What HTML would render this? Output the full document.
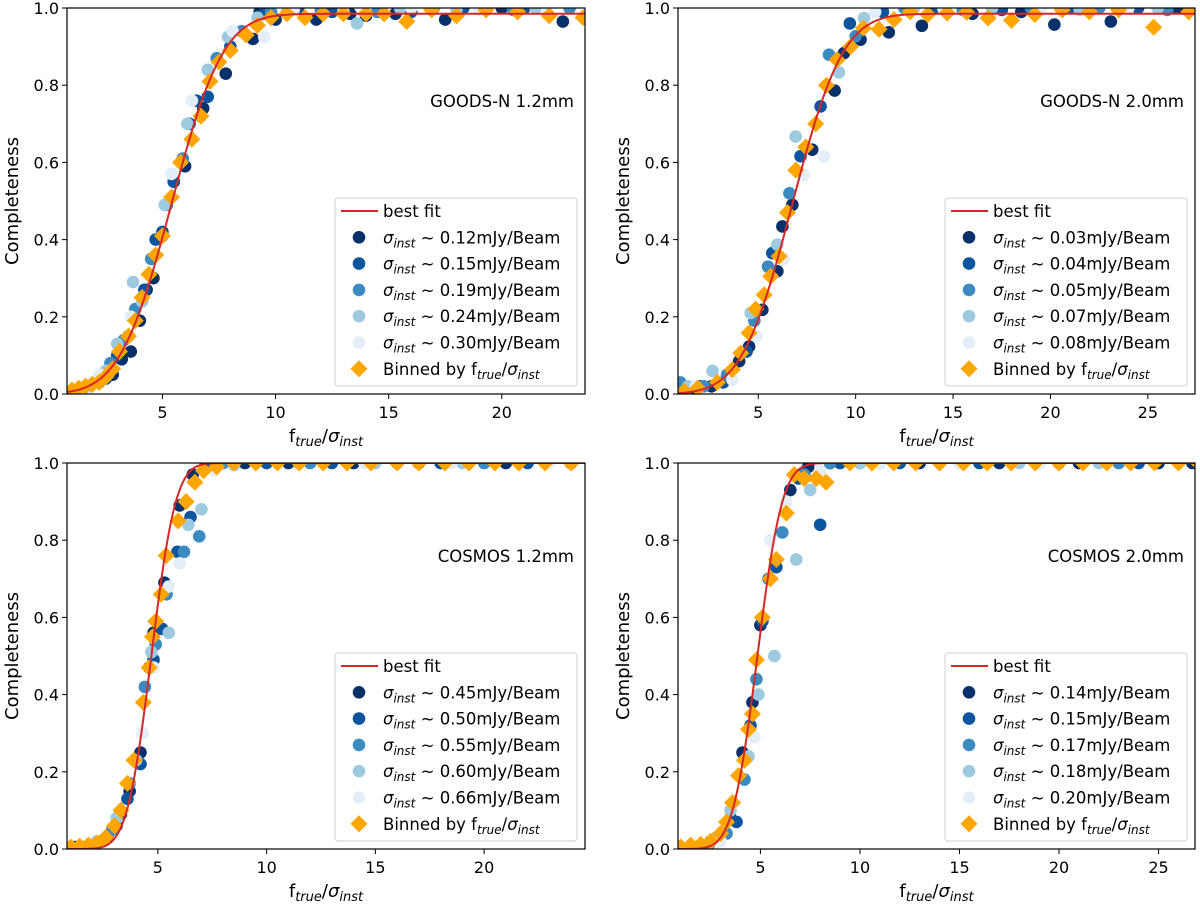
<!DOCTYPE html>
<html><head><meta charset="utf-8">
<style>
html,body{margin:0;padding:0;background:#fff;}
svg{display:block;font-family:"DejaVu Sans","Liberation Sans",sans-serif;}
</style></head>
<body>
<svg id="fig" width="1200" height="904" viewBox="0 0 1200 904" xmlns="http://www.w3.org/2000/svg"></svg>
<script>
// ---- Panel 1: GOODS-N 1.2mm ----
const p1Labels = ["0.12","0.15","0.19","0.24","0.30"];
const p1A = [[2.2,0.03],[2.8,0.05],[3.2,0.09],[3.6,0.11],[4.0,0.19],[4.3,0.27],[4.6,0.30],[5.0,0.41],[5.5,0.55],[6.0,0.59],[6.8,0.74],[7.8,0.83],[9.0,0.92],[9.3,0.99],[10,0.97],[11.8,0.97],[13.3,0.985],[14,0.98],[15.3,0.985],[17.5,0.97],[20,1.0],[22.7,0.965]];
const p1B = [[2.5,0.04],[3.0,0.10],[3.5,0.15],[4.2,0.27],[4.7,0.40],[5.0,0.42],[5.5,0.55],[6.2,0.70],[6.5,0.76],[7.0,0.77],[8.0,0.90],[9.5,0.985],[11,1.0],[12.5,0.99],[16,0.99],[18.3,1.0],[21,1.0]];
const p1C = [[2.0,0.03],[2.7,0.08],[3.3,0.14],[3.8,0.22],[4.5,0.35],[5.2,0.49],[5.9,0.61],[6.7,0.72],[7.4,0.87],[8.5,0.94],[9.8,0.99],[12,0.995],[14.5,0.99],[17,1.0],[20.5,0.995],[23,1.0]];
const p1D = [[1.8,0.02],[2.5,0.06],[3.0,0.13],[3.7,0.29],[4.1,0.24],[5.1,0.49],[6.1,0.70],[7.0,0.84],[7.9,0.925],[9.2,0.975],[10.5,0.99],[13.6,0.96],[15.5,1.0],[18,0.995],[21.5,1.0]];
const p1E = [[1.5,0.01],[2.2,0.05],[3.6,0.20],[5.4,0.57],[6.3,0.76],[8.1,0.94],[9.5,0.925],[10.8,0.995],[13,0.99],[16,1.0],[19,0.995],[22,1.0]];
const p1Bin = [[1.0,0.01],[1.3,0.015],[1.6,0.02],[1.9,0.025],[2.2,0.03],[2.5,0.045],[2.8,0.065],[3.1,0.11],[3.5,0.15],[3.8,0.19],[4.1,0.25],[4.4,0.31],[4.7,0.36],[5.0,0.41],[5.4,0.51],[5.8,0.60],[6.3,0.66],[6.7,0.72],[7.1,0.81],[7.5,0.86],[8.0,0.89],[8.7,0.93],[9.2,0.955],[9.8,0.975],[10.5,0.985],[11.3,0.975],[12.1,0.985],[13,0.985],[14,0.985],[14.8,0.985],[15.8,0.965],[16.9,0.995],[18,0.98],[19.3,0.995],[20.7,0.99],[22.1,0.98],[23.6,0.975]];
const p1Fit = [0.985, 5.4, 1.8];
const p1Ticks = [5,10,15,20];

// ---- Panel 2: GOODS-N 2.0mm ----
const p2Labels = ["0.03","0.04","0.05","0.07","0.08"];
const p2A = [[1.6,0.01],[2.6,0.02],[4.02,0.085],[4.53,0.123],[5.21,0.218],[5.98,0.318],[6.24,0.434],[6.75,0.49],[7.77,0.633],[8.92,0.786],[9.4,0.883],[10.25,0.918],[11.7,0.937],[13.4,0.954],[16.0,0.985],[18.5,0.99],[20.2,0.957],[23.1,0.965],[26.5,1.0]];
const p2B = [[2.0,0.02],[3.2,0.03],[4.4,0.11],[5.72,0.365],[7.17,0.616],[8.2,0.745],[9.7,0.96],[11.4,0.99],[14,1.0],[17.5,0.995],[21,1.0],[24.5,1.0]];
const p2C = [[1.0,0.03],[2.2,0.02],[3.4,0.05],[4.8,0.19],[5.5,0.33],[6.6,0.52],[8.63,0.879],[10.0,0.927],[12.5,1.0],[15.5,0.995],[19,1.0],[22.5,1.0],[26,0.995]];
const p2D = [[1.4,0.02],[2.65,0.06],[4.61,0.21],[5.98,0.387],[6.92,0.667],[9.14,0.833],[10.43,0.974],[13,1.0],[17,1.0],[21.5,0.995],[25.5,1.0]];
const p2E = [[1.8,0.02],[3.67,0.037],[4.9,0.15],[6.3,0.35],[7.35,0.568],[8.37,0.616],[11,0.99],[14.5,1.0],[19.5,0.995],[24,1.0]];
const p2Bin = [[1.2,0.007],[1.9,0.015],[2.9,0.03],[3.67,0.063],[4.1,0.106],[4.53,0.158],[4.87,0.22],[5.3,0.257],[5.64,0.305],[6.07,0.357],[6.5,0.47],[6.93,0.58],[7.44,0.64],[7.95,0.70],[8.5,0.80],[9.05,0.866],[9.74,0.90],[10.4,0.948],[11.2,0.945],[11.97,0.97],[12.8,0.99],[13.7,0.983],[14.7,0.987],[15.7,0.989],[16.8,0.974],[18.0,0.968],[19.2,0.983],[20.6,0.995],[22.0,0.99],[23.5,0.995],[25.3,0.95],[27.1,0.99]];
const p2Fit = [0.985, 6.75, 2.05];
const p2Ticks = [5,10,15,20,25];

// ---- Panel 3: COSMOS 1.2mm ----
const p3Labels = ["0.45","0.50","0.55","0.60","0.66"];
const p3A = [[1.2,0.005],[2,0.01],[2.7,0.03],[3.3,0.09],[3.7,0.15],[4.2,0.25],[4.6,0.47],[4.8,0.56],[5.3,0.69],[6.0,0.89],[6.6,0.97],[7.2,0.995],[9,1.0],[11,1.0],[14,1.0],[17,1.0],[21,1.0],[24,1.0]];
const p3B = [[1.5,0.005],[2.4,0.02],[3.1,0.06],[3.6,0.13],[4.2,0.22],[4.8,0.49],[5.2,0.57],[5.9,0.77],[6.5,0.86],[7.3,0.99],[10,1.0],[13,1.0],[18,1.0],[22,1.0]];
const p3C = [[2.0,0.01],[2.9,0.05],[3.7,0.17],[4.4,0.42],[4.9,0.53],[5.4,0.66],[6.2,0.77],[6.9,0.81],[8,1.0],[12,1.0],[16,1.0],[20,1.0]];
const p3D = [[2.2,0.02],[3.1,0.08],[4.0,0.23],[4.7,0.51],[5.5,0.56],[6.4,0.84],[7.0,0.88],[8.5,0.995],[11.5,1.0],[15,1.0],[19,1.0]];
const p3E = [[2.5,0.02],[3.3,0.10],[4.3,0.30],[4.8,0.47],[5.5,0.68],[6.0,0.74],[7.6,0.98],[10.5,1.0],[14.5,1.0],[18.5,1.0],[23,1.0]];
const p3Bin = [[1.0,0.005],[1.4,0.007],[1.8,0.01],[2.2,0.015],[2.6,0.03],[3.0,0.06],[3.3,0.1],[3.6,0.17],[3.9,0.23],[4.33,0.38],[4.6,0.47],[4.75,0.55],[4.9,0.59],[5.15,0.66],[5.38,0.76],[5.93,0.85],[6.3,0.90],[6.7,0.95],[7.1,0.98],[7.7,0.99],[8.5,1.0],[9.5,1.0],[10.5,1.0],[11.5,1.0],[12.6,1.0],[13.7,1.0],[14.8,1.0],[16,1.0],[17,1.0],[18.2,1.0],[19.3,1.0],[20.5,1.0],[21.6,1.0],[22.8,1.0],[24,1.0]];
const p3Fit = [1.0, 4.7, 0.88];
const p3Ticks = [5,10,15,20];

// ---- Panel 4: COSMOS 2.0mm ----
const p4Labels = ["0.14","0.15","0.17","0.18","0.20"];
const p4A = [[1.5,0.005],[2.5,0.02],[3.5,0.08],[4.1,0.25],[4.6,0.38],[5.0,0.58],[6.5,0.93],[7.0,0.97],[7.4,0.99],[8.5,1.0],[10,1.0],[13,1.0],[17,1.0],[21,1.0],[25,1.0],[26.7,1.0]];
const p4B = [[2,0.01],[3.0,0.03],[3.8,0.07],[4.5,0.32],[5.1,0.59],[5.8,0.73],[6.9,0.96],[8.0,0.84],[9,1.0],[12,1.0],[16,1.0],[20,1.0],[24,1.0]];
const p4C = [[2.4,0.01],[3.3,0.04],[4.2,0.18],[4.8,0.44],[5.4,0.70],[6.1,0.82],[7.2,0.97],[8.5,1.0],[11,1.0],[15,1.0],[19,1.0],[23,1.0]];
const p4D = [[2.8,0.03],[3.5,0.10],[4.4,0.24],[4.9,0.40],[5.7,0.50],[6.8,0.75],[7.5,0.93],[10,1.0],[14,1.0],[18,1.0],[22,1.0]];
const p4E = [[3.0,0.02],[3.7,0.12],[4.7,0.29],[5.5,0.80],[6.3,0.90],[8.0,0.98],[11,1.0],[15,1.0],[19,1.0],[26,1.0]];
const p4Bin = [[1.0,0.005],[1.5,0.01],[2.0,0.012],[2.5,0.02],[3.0,0.04],[3.3,0.07],[3.6,0.12],[3.9,0.19],[4.2,0.23],[4.4,0.31],[4.6,0.35],[4.8,0.49],[5.1,0.60],[5.5,0.70],[5.8,0.75],[6.3,0.87],[6.7,0.97],[7.2,0.96],[7.8,0.96],[8.3,0.95],[9.5,1.0],[10.6,1.0],[11.7,1.0],[12.8,1.0],[14,1.0],[15.2,1.0],[16.4,1.0],[17.6,1.0],[18.8,1.0],[20,1.0],[21.2,1.0],[22.4,1.0],[23.6,1.0],[24.8,1.0],[26,1.0],[27,1.0]];
const p4Fit = [1.0, 4.85, 0.98];
const p4Ticks = [5,10,15,20,25];

const yTicks = [0.0,0.2,0.4,0.6,0.8,1.0];
const colors = ["#08306b","#0b559f","#3b8bc2","#9ecae1","#e3eef9"];
const NS = "http://www.w3.org/2000/svg";
const svg = document.getElementById("fig");

function mk(tag, attrs, parent){
  const e = document.createElementNS(NS, tag);
  for (const k in attrs) e.setAttribute(k, attrs[k]);
  (parent||svg).appendChild(e);
  return e;
}
function erf(x){
  const s = x<0?-1:1; x=Math.abs(x);
  const t=1/(1+0.3275911*x);
  const y=1-(((((1.061405429*t-1.453152027)*t)+1.421413741)*t-0.284496736)*t+0.254829592)*t*Math.exp(-x*x);
  return s*y;
}
function sigmaText(parent, x, y, rest, name){
  const t = mk("text",{x:x,y:y,"font-size":"16.5"},parent);
  
  
  const a = mk("tspan",{"font-style":"italic"},t); a.textContent="σ";
  const b = mk("tspan",{"font-style":"italic","font-size":"12",dy:"4"},t); b.textContent="inst";
  const c = mk("tspan",{dy:"-4"},t); c.textContent=rest;
  return t;
}

const panels = [
  {L:67,R:585,T:8,B:394,xmin:0.78,xmax:23.68,ticks:p1Ticks,series:[p1A,p1B,p1C,p1D,p1E],bin:p1Bin,fit:p1Fit,labels:p1Labels,title:"GOODS-N 1.2mm",id:"goodsn-12mm"},
  {L:678,R:1195,T:8,B:394,xmin:0.88,xmax:27.42,ticks:p2Ticks,series:[p2A,p2B,p2C,p2D,p2E],bin:p2Bin,fit:p2Fit,labels:p2Labels,title:"GOODS-N 2.0mm",id:"goodsn-20mm"},
  {L:67,R:585,T:463,B:849,xmin:0.82,xmax:24.64,ticks:p3Ticks,series:[p3A,p3B,p3C,p3D,p3E],bin:p3Bin,fit:p3Fit,labels:p3Labels,title:"COSMOS 1.2mm",id:"cosmos-12mm"},
  {L:678,R:1195,T:463,B:849,xmin:0.86,xmax:26.83,ticks:p4Ticks,series:[p4A,p4B,p4C,p4D,p4E],bin:p4Bin,fit:p4Fit,labels:p4Labels,title:"COSMOS 2.0mm",id:"cosmos-20mm"}
];

panels.forEach(p=>{
  const g = mk("g",{});
  
  
  const sx = v => p.L + (v-p.xmin)/(p.xmax-p.xmin)*(p.R-p.L);
  const sy = v => p.B - v*(p.B-p.T);
  const defs = mk("defs",{},g);
  const cp = mk("clipPath",{id:"clip-"+p.id},defs);
  mk("rect",{x:p.L,y:p.T,width:p.R-p.L,height:p.B-p.T},cp);
  const plot = mk("g",{"clip-path":"url(#clip-"+p.id+")"},g);
  
  
  p.series.forEach((s,i)=>{
    s.forEach(pt=>{
      const c = mk("circle",{cx:sx(pt[0]),cy:sy(pt[1]),r:6.3,fill:colors[i]},plot);
      
      
    });
  });
  p.bin.forEach(pt=>{
    const x=sx(pt[0]), y=sy(pt[1]), d=8.5;
    const dm = mk("polygon",{points:`${x},${y-d} ${x+d},${y} ${x},${y+d} ${x-d},${y}`,fill:"#ffa500"},plot);
    
    
  });
  let dstr="";
  const [A,mu,sg]=p.fit;
  for(let k=0;k<=300;k++){
    const v = p.xmin + (p.xmax-p.xmin)*k/300;
    const c = A/2*(1+erf((v-mu)/(Math.SQRT2*sg)));
    dstr += (k?"L":"M")+sx(v).toFixed(2)+","+sy(c).toFixed(2);
  }
  const fl = mk("path",{d:dstr,fill:"none",stroke:"#d62728","stroke-width":2},plot);
  
  
  const fr = mk("rect",{x:p.L,y:p.T,width:p.R-p.L,height:p.B-p.T,fill:"none",stroke:"#000","stroke-width":1.2},g);
  
  
  p.ticks.forEach(t=>{
    const x=sx(t);
    mk("line",{x1:x,y1:p.B,x2:x,y2:p.B+5,stroke:"#000","stroke-width":1},g);
    const tl = mk("text",{x:x,y:p.B+24,"font-size":"16","text-anchor":"middle"},g);
    
    
    tl.textContent=t;
  });
  yTicks.forEach(t=>{
    const y=sy(t);
    mk("line",{x1:p.L-5,y1:y,x2:p.L,y2:y,stroke:"#000","stroke-width":1},g);
    const tl = mk("text",{x:p.L-8,y:y+6,"font-size":"16","text-anchor":"end"},g);
    
    
    tl.textContent=t.toFixed(1);
  });
  const xl = mk("text",{x:(p.L+p.R)/2,y:p.B+48,"font-size":"18","text-anchor":"middle"},g);
  
  
  let s1=mk("tspan",{},xl); s1.textContent="f";
  let s2=mk("tspan",{"font-style":"italic","font-size":"13",dy:"4"},xl); s2.textContent="true";
  let s3=mk("tspan",{dy:"-4"},xl); s3.textContent="/";
  let s4=mk("tspan",{"font-style":"italic"},xl); s4.textContent="σ";
  let s5=mk("tspan",{"font-style":"italic","font-size":"13",dy:"4"},xl); s5.textContent="inst";
  const yc=(p.T+p.B)/2, yx=p.L-49;
  const yl = mk("text",{x:yx,y:yc,"font-size":"18","text-anchor":"middle",transform:`rotate(-90 ${yx} ${yc})`},g);
  
  
  yl.textContent="Completeness";
  const an = mk("text",{x:p.R-11,y:p.T+99,"font-size":"16.5","text-anchor":"end"},g);
  
  
  an.textContent=p.title;
  const lg = mk("g",{},g);
  
  
  const lw=242, lh=188, lx=p.R-8-lw, ly=p.B-8-lh;
  mk("rect",{x:lx,y:ly,width:lw,height:lh,rx:3,fill:"#fff","fill-opacity":0.85,stroke:"#d0d0d0","stroke-width":1},lg);
  const mx=lx+24, tx=lx+48;
  let ey=ly+13;
  const ll = mk("line",{x1:lx+6,y1:ey,x2:lx+43,y2:ey,stroke:"#d62728","stroke-width":2},lg);
  
  
  const lt = mk("text",{x:tx,y:ey+6,"font-size":"16.5"},lg);
  
  
  lt.textContent="best fit";
  p.labels.forEach((lab,i)=>{
    ey+=26.3;
    mk("circle",{cx:mx,cy:ey,r:6.3,fill:colors[i]},lg);
    sigmaText(lg, tx, ey+6, " ~ "+lab+"mJy/Beam", "legend-entry-sigma-"+lab);
  });
  ey+=26.3;
  mk("polygon",{points:`${mx},${ey-8.5} ${mx+8.5},${ey} ${mx},${ey+8.5} ${mx-8.5},${ey}`,fill:"#ffa500"},lg);
  const bt = mk("text",{x:tx,y:ey+6,"font-size":"16.5"},lg);
  
  
  let b1=mk("tspan",{},bt); b1.textContent="Binned by f";
  let b2=mk("tspan",{"font-style":"italic","font-size":"12",dy:"4"},bt); b2.textContent="true";
  let b3=mk("tspan",{dy:"-4"},bt); b3.textContent="/";
  let b4=mk("tspan",{"font-style":"italic"},bt); b4.textContent="σ";
  let b5=mk("tspan",{"font-style":"italic","font-size":"12",dy:"4"},bt); b5.textContent="inst";
});
</script>
</body></html>
